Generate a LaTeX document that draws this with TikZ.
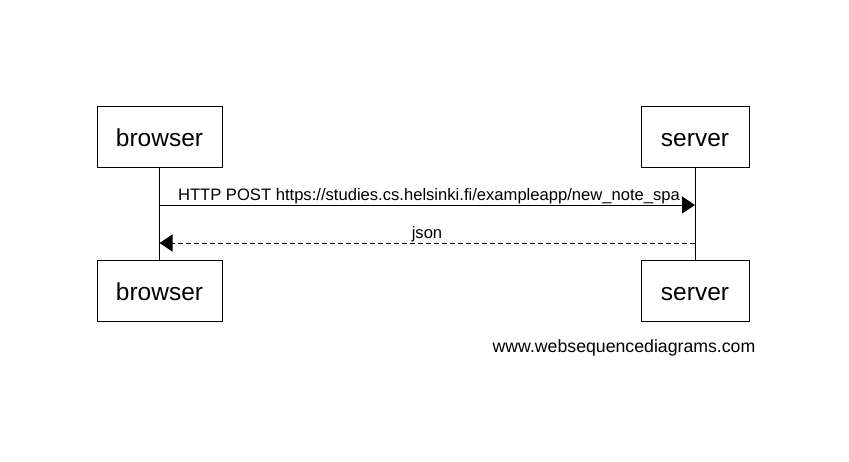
\documentclass[tikz,border=0pt]{standalone}
\usepackage{fontspec}
\setmainfont{Liberation Sans}
\usetikzlibrary{arrows.meta}
\begin{document}
\begin{tikzpicture}[x=1pt,y=-1pt,
  actor/.style={draw=black, line width=1pt, minimum height=61pt, inner sep=0pt, text height=19pt, text depth=0pt, font=\fontsize{24.5}{28}\selectfont},
  msglabel/.style={font=\fontsize{16.6}{20}\selectfont, inner sep=0pt, anchor=base},
  msg/.style={line width=1pt, -{Triangle[length=13pt,width=17pt]}},
  lifeline/.style={line width=1pt}]
\useasboundingbox (0,0) rectangle (849,461);
\node[actor, minimum width=125pt] (b1) at (159.5,136.5) {browser};
\node[actor, minimum width=108pt] (s1) at (695,136.5) {server};
\node[actor, minimum width=125pt] (b2) at (159.5,291) {browser};
\node[actor, minimum width=108pt] (s2) at (695,291) {server};
\draw[lifeline] (b1.south) -- (b2.north);
\draw[lifeline] (s1.south) -- (s2.north);
\coordinate (m1b) at (159.5,205);
\coordinate (m1s) at (695,205);
\coordinate (m2b) at (159.5,243);
\coordinate (m2s) at (695,243);
\draw[msg] (m1b) -- (m1s);
\draw[msg, dash pattern=on 5pt off 3pt] (m2s) -- (m2b);
\node[msglabel] (l1) at (429,200) {HTTP POST https://studies.cs.helsinki.fi/exampleapp/new\_note\_spa};
\node[msglabel] (l2) at (427,238.5) {json};
\node[msglabel, font=\fontsize{17.7}{20}\selectfont, anchor=center] (wm) at (624,348) {www.websequencediagrams.com};
\end{tikzpicture}
\end{document}
